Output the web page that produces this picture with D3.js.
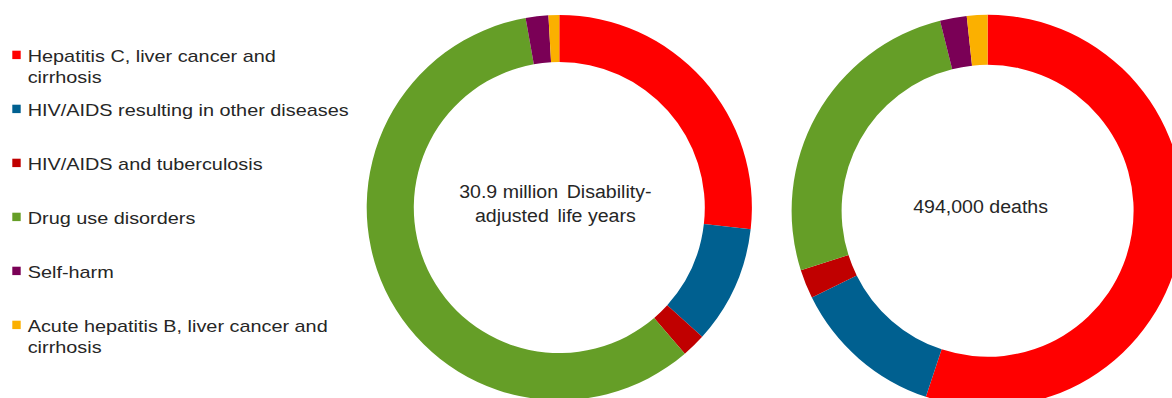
<!DOCTYPE html>
<html>
<head>
<meta charset="utf-8">
<script src="https://cdn.jsdelivr.net/npm/d3@7"></script>
<style>
  html, body { margin: 0; padding: 0; background: #ffffff; }
  svg { display: block; }
  text { font-family: "Liberation Sans", Arial, sans-serif; fill: #262626; }
</style>
</head>
<body>
<svg id="chart" width="1172" height="398"></svg>
<script>
// Causes of drug-attributable burden (share of total, %)
const categories = [
  "Hepatitis C, liver cancer and\ncirrhosis",
  "HIV/AIDS resulting in other diseases",
  "HIV/AIDS and tuberculosis",
  "Drug use disorders",
  "Self-harm",
  "Acute hepatitis B, liver cancer and\ncirrhosis"
];
const colors = ["#ff0000", "#006090", "#c00000", "#659e27", "#7a0056", "#fbb000"];

// Share of disability-adjusted life years by cause
const dalyShares = [26.8, 9.9, 2.0, 58.5, 1.9, 0.9];
// Share of deaths by cause
const deathShares = [55.1, 12.6, 2.4, 26.0, 2.2, 1.7];

const centerLabels = [
  ["30.9 million \u2006Disability-", "adjusted \u2006life years"],
  ["494,000 deaths"]
];

const svg = d3.select("#chart");
const color = d3.scaleOrdinal().domain(categories).range(colors);

const pie = d3.pie().sort(null).value(d => d.value);

function donut(values, cx, cy, rOuter, rInner, label, labelDx, labelBaseline) {
  const g = svg.append("g").attr("transform", `translate(${cx},${cy})`);
  const arc = d3.arc().innerRadius(rInner).outerRadius(rOuter);
  const data = values.map((v, i) => ({ key: categories[i], value: v }));
  g.selectAll("path")
    .data(pie(data))
    .join("path")
    .attr("d", arc)
    .attr("fill", d => color(d.data.key));

  const t = g.append("text")
    .attr("text-anchor", "middle")
    .attr("font-size", 19)
    .attr("transform", `translate(${labelDx},0) scale(1.03,1)`)
    .style("white-space", "pre");
  label.forEach((line, i) => {
    t.append("tspan")
      .attr("x", 0)
      .attr("y", labelBaseline + i * 23.4)
      .text(line);
  });
}

donut(dalyShares, 559.3, 207.6, 192.6, 145.5, centerLabels[0], -4, -9.3);
donut(deathShares, 987.6, 210.8, 196, 146, centerLabels[1], -7, 2.6);

// Legend
const legend = svg.append("g");
const entryStep = 54;
const firstBaseline = 61.5;
categories.forEach((name, i) => {
  const base = firstBaseline + i * entryStep;
  legend.append("rect")
    .attr("x", 12.3)
    .attr("y", base - 10.8)
    .attr("width", 8.4)
    .attr("height", 8.4)
    .attr("fill", color(name));
  const t = legend.append("text")
    .attr("font-size", 17)
    .attr("transform", `translate(27.7,${base}) scale(1.168,1)`);
  name.split("\n").forEach((line, j) => {
    t.append("tspan")
      .attr("x", 0)
      .attr("y", j * 21.3)
      .text(line);
  });
});
</script>
</body>
</html>
